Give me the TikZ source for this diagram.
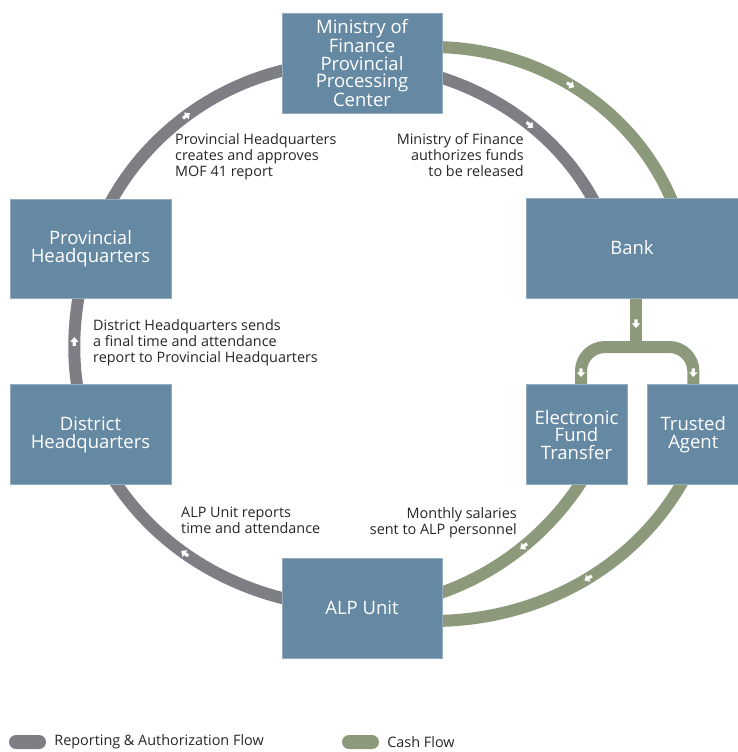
\documentclass[tikz,border=0pt]{standalone}
\usepackage{fontspec}
\setmainfont{Open Sans}
\usetikzlibrary{positioning,backgrounds,decorations.markings}
\definecolor{boxblue}{HTML}{6689A3}
\definecolor{repgray}{HTML}{7E7F85}
\definecolor{cashgreen}{HTML}{8C997A}
\tikzset{
  officebox/.style={fill=boxblue, draw=boxblue!70!white, line width=.8pt, text=white, align=center, inner sep=0pt,
    minimum width=160pt, minimum height=100pt, font=\fontsize{18.5}{17.5}\selectfont},
  flownote/.style={inner sep=0pt, text=black!85, font=\fontsize{14.4}{16}\selectfont},
  replane/.style={draw=repgray, line width=12pt},
  cashlane/.style={draw=cashgreen, line width=12pt},
  flowtip/.style={postaction={decorate, decoration={markings, mark=at position #1 with
    {\fill[white] (-4,-1.6) -- (0,-1.6) -- (0,-4.2) -- (4.6,0) -- (0,4.2) -- (0,1.6) -- (-4,1.6) -- cycle;}}}},
  legendkey/.style={inner sep=0pt, minimum width=37pt, minimum height=14pt, rounded corners=7pt}
}

\begin{document}
\begin{tikzpicture}[x=1pt,y=1pt]
\useasboundingbox (0,0) rectangle (738,-752);
\node[officebox] (mof) at (362,-63) {Ministry of\\Finance\\Provincial\\Processing\\Center};
\node[officebox, minimum width=161pt, minimum height=99pt] (prov) at (90.5,-248.5) {Provincial\\Headquarters};
\node[officebox, minimum width=161pt, below=86pt of prov] (dist) {District\\Headquarters};
\node[officebox, minimum width=212pt] (bank) at (632,-248) {Bank};
\node[officebox, minimum width=101pt, anchor=north west] (eft) at ([yshift=-86pt]bank.south west) {Electronic\\Fund\\Transfer};
\node[officebox, minimum width=91pt, right=20pt of eft] (ta) {Trusted\\Agent};
\node[officebox] (alp) at (362,-608) {ALP Unit};
\coordinate (split) at (636,-347);
\node[flownote, anchor=north west, align=left] (provnote) at (175,-133) {Provincial Headquarters\\creates and approves\\MOF 41 report};
\node[flownote, anchor=north east, align=right] (mofnote) at (524,-133) {Ministry of Finance\\authorizes funds\\to be released};
\node[flownote, anchor=north west, align=left] (distnote) at (93,-319) {District Headquarters sends\\a final time and attendance\\report to Provincial Headquarters};
\node[flownote, anchor=north west, align=left] (alpnote) at (181,-507) {ALP Unit reports\\time and attendance};
\node[flownote, anchor=north east, align=right] (paynote) at (517,-507) {Monthly salaries\\sent to ALP personnel};
\node[legendkey, fill=repgray] (repkey) at (27.5,-742) {};
\node[flownote, right=8pt of repkey] (replabel) {Reporting \& Authorization Flow};
\node[legendkey, fill=cashgreen] (cashkey) at (360.5,-742) {};
\node[flownote, right=8pt of cashkey] (cashlabel) {Cash Flow};
\begin{scope}[on background layer]
\draw[replane, flowtip=.55] (alp.center) to[out=180, in=-68, looseness=.94] (dist.center);
\draw[replane, flowtip=.5] (dist.center) to[out=112, in=-108, looseness=.87] (prov.center);
\draw[replane, flowtip=.47] (prov.center) to[out=72, in=177, looseness=.95] (mof.center);
\draw[replane, flowtip=.6] (mof.center) to[out=-3, in=113.5, looseness=.92] ([xshift=-29pt, yshift=-22pt]bank.north);
\draw[cashlane, flowtip=.45] ([xshift=-10pt, yshift=16pt]mof.east) to[out=0, in=108, looseness=.94] ([xshift=47pt, yshift=-22pt]bank.north);
\draw[cashlane, flowtip=25pt] (bank.south -| split) -- (split);
\draw[cashlane, rounded corners=24pt] (split) -| ([xshift=4.5pt]eft.north);
\draw[cashlane, rounded corners=24pt] (split) -| (ta.north);
\path[flowtip=.5] ([xshift=4.5pt, yshift=16pt]eft.north) -- ([xshift=4.5pt, yshift=8pt]eft.north);
\path[flowtip=.5] ([yshift=16pt]ta.north) -- ([yshift=8pt]ta.north);
\draw[cashlane, flowtip=.36] ([xshift=11.5pt, yshift=14pt]eft.south) to[out=-120.5, in=2.5, looseness=.91] (alp.center);
\draw[cashlane, flowtip=.475] ([xshift=-5pt, yshift=14pt]ta.south) to[out=-117, in=0, looseness=.92] ([xshift=-10pt, yshift=-13pt]alp.east);
\end{scope}
\end{tikzpicture}
\end{document}
